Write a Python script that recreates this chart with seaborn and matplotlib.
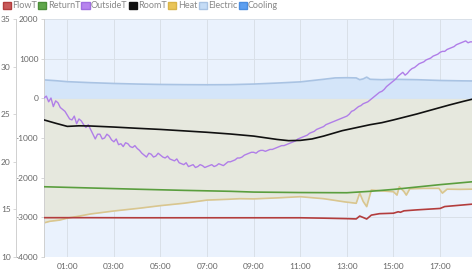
import matplotlib
matplotlib.use("Agg")
import matplotlib.pyplot as plt
from matplotlib.patches import Patch
import seaborn as sns

sns.set_theme(style="white")
plt.rcParams['font.family'] = ['Lato', 'DejaVu Sans']

# ---- data (hours since midnight) ----
tick_hours = [1, 3, 5, 7, 9, 11, 13, 15, 17]
tick_labels = ["01:00", "03:00", "05:00", "07:00", "09:00", "11:00", "13:00", "15:00", "17:00"]

power_ticks = [2000, 1000, 0, -1000, -2000, -3000, -4000]
temp_ticks = [35, 30, 25, 20, 15, 10]

outside_h = [round(i * 0.1, 1) for i in range(185)]
outside_t = [26.7, 26.9, 26.3, 26.7, 25.8, 26.4, 26.2, 25.7, 25.5, 25.3,
             24.9, 24.5, 24.4, 24.8, 24.0, 24.5, 24.3, 23.9, 23.6, 23.9,
             23.4, 22.9, 22.4, 22.9, 22.9, 22.4, 22.5, 22.9, 22.7, 22.3,
             22.1, 22.4, 21.8, 21.9, 21.6, 22.0, 21.9, 21.6, 21.5, 21.7,
             21.4, 21.2, 20.9, 20.7, 20.5, 20.9, 20.8, 20.5, 20.6, 20.9,
             20.7, 20.5, 20.4, 20.6, 20.3, 20.2, 20.1, 20.3, 19.9, 19.8,
             19.7, 19.9, 19.5, 19.6, 19.7, 19.4, 19.5, 19.7, 19.6, 19.4,
             19.5, 19.6, 19.7, 19.5, 19.6, 19.8, 19.7, 19.6, 19.8, 20.0,
             20.0, 20.1, 20.2, 20.4, 20.4, 20.5, 20.7, 20.8, 20.9, 21.0,
             21.0, 20.9, 21.1, 21.2, 21.2, 21.1, 21.2, 21.3, 21.3, 21.4,
             21.5, 21.6, 21.7, 21.7, 21.8, 21.9, 22.0, 22.1, 22.2, 22.4,
             22.5, 22.6, 22.7, 22.8, 23.0, 23.1, 23.2, 23.4, 23.5, 23.6,
             23.7, 23.9, 24.0, 24.1, 24.2, 24.3, 24.4, 24.5, 24.6, 24.7,
             24.8, 25.0, 25.3, 25.4, 25.6, 25.8, 25.9, 26.1, 26.2, 26.3,
             26.5, 26.7, 26.9, 27.1, 27.3, 27.4, 27.6, 27.9, 28.1, 28.3,
             28.5, 28.7, 29.0, 29.2, 29.4, 29.1, 29.3, 29.6, 29.8, 29.9,
             30.1, 30.3, 30.4, 30.5, 30.7, 30.8, 30.9, 31.1, 31.2, 31.3,
             31.5, 31.6, 31.6, 31.8, 31.9, 32.0, 32.1, 32.3, 32.4, 32.5,
             32.6, 32.7, 32.5, 32.6, 32.6]

room_h = [0, 0.5, 1, 1.5, 2, 3, 4, 5, 6, 7, 8, 9, 10, 10.5, 11, 11.5, 12,
          12.8, 14, 14.5, 15, 16, 17, 17.4, 18, 18.37]
room_t = [24.4, 24.05, 23.72, 23.78, 23.76, 23.65, 23.52, 23.4, 23.25, 23.1,
          22.92, 22.7, 22.35, 22.22, 22.25, 22.4, 22.7, 23.27, 23.9, 24.11,
          24.4, 25.02, 25.7, 25.97, 26.35, 26.57]

return_h = [0, 2, 4, 6, 8, 9, 11, 13, 14, 15, 16, 17, 18.37]
return_t = [17.38, 17.25, 17.12, 17.0, 16.9, 16.82, 16.77, 16.75, 16.9, 17.1,
            17.35, 17.6, 17.9]

flow_h = [0, 2, 4, 6, 8, 10, 11, 12, 13, 13.4, 13.55, 13.7, 13.85, 14.05,
          14.4, 15, 15.2, 15.3, 15.45, 16, 17, 17.2, 18.37]
flow_t = [14.13, 14.13, 14.12, 14.12, 14.12, 14.12, 14.12, 14.08, 14.03, 14.0,
          14.3, 14.15, 13.99, 14.4, 14.55, 14.6, 14.75, 14.7, 14.85, 14.95,
          15.1, 15.3, 15.55]

heat_h = [0, 0.25, 0.67, 1, 1.5, 2, 3, 4.1, 5, 6, 7, 7.9, 8.4, 9, 10, 11, 12,
          12.4, 12.9, 13.4, 13.55, 13.7, 13.85, 14.05, 14.4, 15, 15.15, 15.25,
          15.45, 15.55, 15.7, 16.3, 16.95, 17.1, 17.3, 17.85, 18.37]
heat_w = [-3140, -3100, -3070, -3020, -2970, -2915, -2840, -2770, -2705, -2645,
          -2565, -2545, -2530, -2535, -2510, -2480, -2530, -2565, -2610, -2646,
          -2390, -2600, -2730, -2310, -2330, -2355, -2440, -2230, -2350, -2440,
          -2280, -2270, -2270, -2390, -2290, -2295, -2290]

electric_h = [0, 0.5, 1, 2, 3, 4, 5, 6, 7, 8, 9, 10, 11, 12, 12.5, 13, 13.4,
              13.55, 13.7, 13.85, 14.0, 14.5, 15, 16, 17, 18, 18.37]
electric_w = [465, 445, 420, 395, 375, 360, 350, 345, 342, 345, 360, 385, 415,
              480, 515, 520, 515, 470, 490, 535, 480, 470, 480, 470, 450, 440, 438]

# ---- figure ----
fig = plt.figure(figsize=(4.72, 2.73), dpi=100)
ax = fig.add_axes([44 / 472, 16 / 273, 428 / 472, 238 / 273])
ax.set_facecolor('#eaf2fd')

grid_c = '#d9e0e8'
for h in tick_hours:
    ax.axvline(h, color=grid_c, lw=0.7, zorder=0)
for p in power_ticks:
    ax.axhline(p, color=grid_c, lw=0.7, zorder=0)

# power areas
ax.fill_between(heat_h, heat_w, 0, color='#e6e8de', lw=0, zorder=1)
ax.fill_between(electric_h, 0, electric_w, color='#d4e5f9', lw=0, zorder=1)
sns.lineplot(x=heat_h, y=heat_w, ax=ax, color='#d9c68f', lw=1.2, zorder=2)
sns.lineplot(x=electric_h, y=electric_w, ax=ax, color='#a9c3e3', lw=1.2, zorder=2)

ax.set_xlim(0, 18.37)
ax.set_ylim(-4000, 2000)
ax.set_yticks(power_ticks)
ax.set_yticklabels([str(p) for p in power_ticks])
ax.set_xticks(tick_hours)
ax.set_xticklabels(tick_labels)

# temperature axis on the left, outside the power axis
ax_t = ax.twinx()
ax_t.yaxis.set_ticks_position('left')
ax_t.yaxis.set_label_position('left')
ax_t.spines['left'].set_position(('outward', 20))
ax_t.set_ylim(10, 35)
ax_t.set_yticks(temp_ticks)

sns.lineplot(x=flow_h, y=flow_t, ax=ax_t, color='#b33d3d', lw=1.2)
sns.lineplot(x=return_h, y=return_t, ax=ax_t, color='#5a9e3e', lw=1.2)
sns.lineplot(x=outside_h, y=outside_t, ax=ax_t, color='#b07ee8', lw=1.0)
sns.lineplot(x=room_h, y=room_t, ax=ax_t, color='#111111', lw=1.2)

for a in (ax, ax_t):
    for s in ('top', 'right', 'bottom'):
        a.spines[s].set_visible(False)
    a.spines['left'].set_color('#d0d0d0')
    a.spines['left'].set_linewidth(0.7)
    a.tick_params(axis='y', which='both', left=True, right=False, length=2.5,
                  width=0.6, color='#d0d0d0', labelsize=6, labelcolor='#666666', pad=1.5)
    a.set_xlabel('')
    a.set_ylabel('')
ax.tick_params(axis='x', length=0, labelsize=6, labelcolor='#666666', pad=4)

handles = [Patch(facecolor='#c85a5a', edgecolor='#b33d3d', label='FlowT'),
           Patch(facecolor='#5fa64a', edgecolor='#4b8e38', label='ReturnT'),
           Patch(facecolor='#b784ee', edgecolor='#a06ee0', label='OutsideT'),
           Patch(facecolor='#111111', edgecolor='#111111', label='RoomT'),
           Patch(facecolor='#eac558', edgecolor='#d9b448', label='Heat'),
           Patch(facecolor='#c5dcf6', edgecolor='#a9c3e3', label='Electric'),
           Patch(facecolor='#5d9ff0', edgecolor='#4a8de0', label='Cooling')]
leg = fig.legend(handles=handles, loc='upper left', bbox_to_anchor=(0.0, 1.005),
                 ncol=7, frameon=False, fontsize=6.5, handlelength=0.9,
                 handleheight=0.75, handletextpad=0.15, columnspacing=0.15,
                 borderaxespad=0.1, borderpad=0.2)
for t in leg.get_texts():
    t.set_color('#888888')

fig.savefig('out.png', dpi=100)
